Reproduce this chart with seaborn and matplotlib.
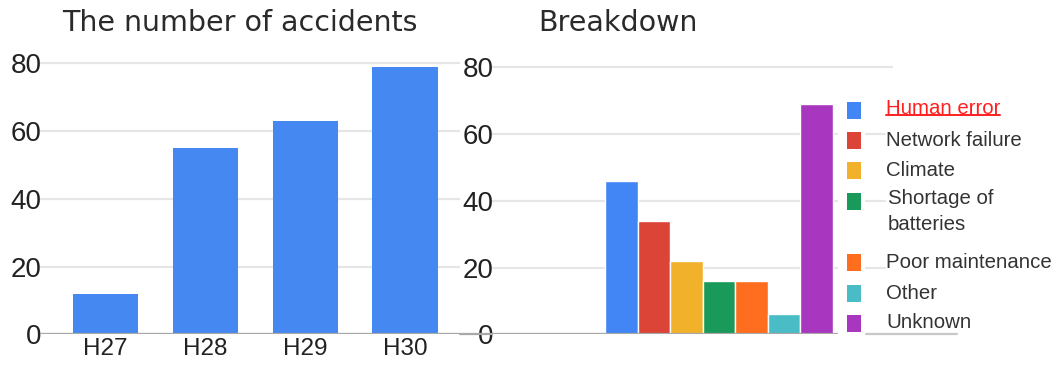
import matplotlib
matplotlib.use("Agg")
import matplotlib.pyplot as plt
from matplotlib.patches import Rectangle
from matplotlib.lines import Line2D
import seaborn as sns
import pandas as pd

# --- data -------------------------------------------------------------
years = ["H27", "H28", "H29", "H30"]
accidents = [12, 55, 63, 79]

causes = ["Human error", "Network failure", "Climate", "Shortage of\nbatteries",
          "Poor maintenance", "Other", "Unknown"]
cause_counts = [46, 34, 22, 16, 16, 6, 69]
cause_colors = ["#4285F4", "#DB4437", "#F2B12B", "#1A9A5A",
                "#FF6D1F", "#4ABCC5", "#A836BF"]
y_ticks = [0, 20, 40, 60, 80]

# --- style ------------------------------------------------------------
sns.set_theme(style="white")
plt.rcParams["font.family"] = ["Liberation Sans", "DejaVu Sans"]

W, H = 1057, 365
fig = plt.figure(figsize=(W / 100, H / 100), dpi=100)
fig.patch.set_facecolor("white")

GRID = "#e6e6e6"
BASE = "#a8a8a8"
TICK = "#222222"


def px_axes(left, top, right, bottom):
    """Axes placed by pixel edges (origin at top-left)."""
    return fig.add_axes([left / W, 1 - bottom / H, (right - left) / W, (bottom - top) / H])


def fy(y):
    return 1 - y / H


def fx(x):
    return x / W


# left: total accidents per year (0..84 spans 334.3 -> 49.75 px)
ax1 = px_axes(40, 49.75, 460, 334.3)
# right: breakdown by cause (0..84 spans 334.3 -> 53.95 px)
ax2 = px_axes(492, 53.95, 838, 334.3)

df_years = pd.DataFrame({"year": years, "accidents": accidents})
sns.barplot(data=df_years, x="year", y="accidents", color="#4688F1", saturation=1,
            width=0.65, edgecolor="none", ax=ax1)
ax1.set_xlim(-0.65, 3.55)

df_causes = pd.DataFrame({"group": ["all"] * len(causes), "cause": causes, "count": cause_counts})
sns.barplot(data=df_causes, x="group", y="count", hue="cause", hue_order=causes,
            palette=cause_colors, saturation=1, width=0.8, edgecolor="white",
            linewidth=1.0, legend=False, ax=ax2)
ax2.set_xlim(-0.7965, 0.4175)

for ax in (ax1, ax2):
    ax.set_ylim(0, 84)
    ax.set_yticks(y_ticks)
    ax.set_xlabel("")
    ax.set_ylabel("")
    ax.set_axisbelow(True)
    ax.yaxis.grid(True, color=GRID, lw=1.6)
    ax.xaxis.grid(False)
    for s in ax.spines.values():
        s.set_visible(False)
    ax.axhline(0, color=BASE, lw=1.6, zorder=1)
    ax.tick_params(axis="y", labelsize=20, pad=-1, length=0, colors=TICK)
    ax.tick_params(axis="x", labelsize=17.5, pad=3, length=0, colors=TICK)
    ax.set_facecolor("none")

ax2.set_xticks([])

# gridline pieces that run on past the plot into the legend strip
aw = 838 - 492
ext = lambda x: (x - 492) / aw
ax2.axhline(80, xmin=1.0, xmax=ext(892), color=GRID, lw=1.6, clip_on=False)
for v in (60, 40, 20):
    ax2.axhline(v, xmin=ext(866), xmax=ext(885), color=GRID, lw=1.6, clip_on=False)
ax2.axhline(0, xmin=ext(460), xmax=0, color=BASE, lw=1.6, clip_on=False)
ax2.axhline(0, xmin=ext(866), xmax=ext(957), color="#c8c8c8", lw=1.6, clip_on=False)

# --- titles -----------------------------------------------------------
title_font = ["DejaVu Sans"]
fig.text(fx(62), fy(23), "The number of accidents", fontsize=20.5, color="#2a2a2a",
         family=title_font, va="center", ha="left")
fig.text(fx(538), fy(23), "Breakdown", fontsize=20.5, color="#2a2a2a",
         family=title_font, va="center", ha="left")

# --- legend -----------------------------------------------------------
marker_y = [110, 140.5, 170.7, 201.5, 262.7, 293.3, 323.3]
text_y = [108, 140.7, 170.7, 198.3, 262.7, 293.3, 322.7]
line_step = 26.7
legend_texts = []
for label, color, my, ty in zip(causes, cause_colors, marker_y, text_y):
    fig.patches.append(Rectangle((fx(847), fy(my + 8.5)), 13.5 / W, 17 / H,
                                 transform=fig.transFigure, facecolor=color,
                                 edgecolor="none"))
    is_link = label == "Human error"
    for i, part in enumerate(label.split("\n")):
        t = fig.text(fx(886 if "\n" not in label else 888), fy(ty + i * line_step), part,
                     fontsize=14.7, color="#ff1f1f" if is_link else "#333333",
                     va="center", ha="left")
        if is_link:
            legend_texts.append(t)

fig.canvas.draw()
for t in legend_texts:
    bb = t.get_window_extent()
    fig.lines.append(Line2D([bb.x0 / W, bb.x1 / W], [fy(114.5), fy(114.5)],
                            transform=fig.transFigure, color="#ff1f1f", lw=1.4))

fig.savefig("out.png", dpi=100, facecolor="white")
